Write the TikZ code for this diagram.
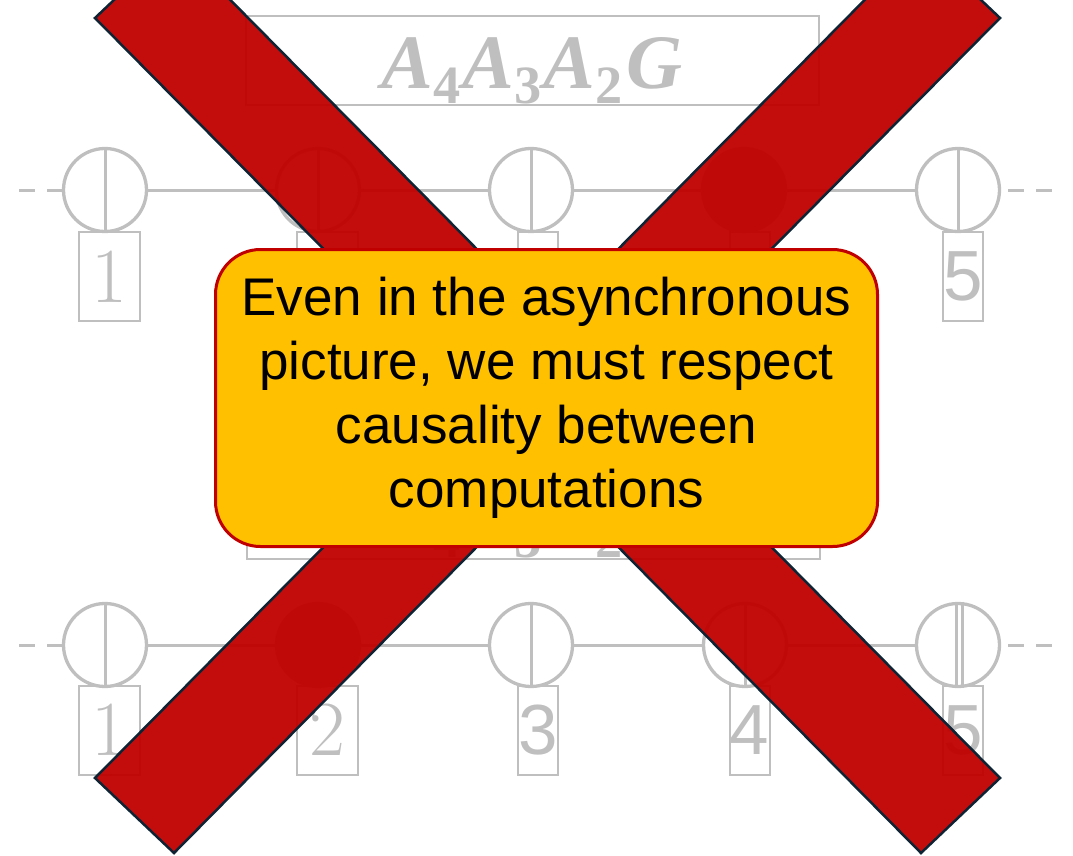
\documentclass[tikz,border=0pt]{standalone}
\usepackage{fontspec}
\usepackage{graphicx}
\newfontfamily\arialf{Liberation Sans}
\newfontfamily\timesf{Liberation Serif}
\newcommand{\fbi}{\timesf\bfseries\itshape}
\newcommand{\fsub}[1]{\raisebox{-1.9pt}{\timesf\bfseries\upshape\fontsize{7}{7}\selectfont #1}}
\newcommand{\formula}{\resizebox{301pt}{51pt}{\fbi A\fsub{4}\kern0.3pt A\fsub{3}\kern0.3pt A\fsub{2}\kern0.5pt G}}
\definecolor{lgray}{HTML}{BFBFBF}
\definecolor{xred}{HTML}{C00000}
\definecolor{navy}{RGB}{14,36,52}
\definecolor{amber}{HTML}{FFC000}
\begin{document}
\begin{tikzpicture}[x=1pt,y=-1pt,
  qc/.style={circle, draw=lgray, line width=3.3pt, minimum size=83pt, inner sep=0pt},
  qcf/.style={qc, fill=lgray},
  wire/.style={draw=lgray, line width=3pt},
  stub/.style={wire, dash pattern=on 16pt off 12pt},
  wbox/.style={draw=lgray, line width=2pt, minimum width=61pt, minimum height=89pt, inner sep=0pt, text=lgray, font=\fontsize{78}{78}\selectfont},
  nbox/.style={draw=lgray, line width=2pt, minimum width=40pt, minimum height=89pt, inner sep=0pt, text=lgray, font=\arialf\fontsize{71}{71}\selectfont},
  fbox/.style={draw=lgray, line width=2pt, minimum width=573pt, minimum height=89pt, inner sep=0pt},
  ftext/.style={anchor=base, text=lgray, inner sep=0pt},
  band/.style={fill=xred, fill opacity=0.95, draw=navy, line width=2.5pt, line join=miter},
  callout/.style={draw=xred, fill=amber, line width=3pt, rounded corners=45pt, minimum width=662pt, minimum height=297pt, align=center, inner sep=0pt, font=\arialf\fontsize{53}{64}\selectfont}
]
\useasboundingbox (0,0) rectangle (1073,856);
\begin{scope}
\clip (0,0) rectangle (1073,856);
% formula boxes
\node[fbox] (tf) at (532.5,60.5) {};
\node[ftext] (tft) at (532,89) {\formula};
\node[fbox] (bf) at (533,514.5) {};
\node[ftext] (bft) at (532,543) {\formula};
% top row
\node[qc] (t1) at (105,190) {};
\node[qc] (t2) at (318,190) {};
\node[qc] (t3) at (531,190) {};
\node[qcf] (t4) at (744,190) {};
\node[qc] (t5) at (958,190) {};
\coordinate (tl) at (19,190);
\coordinate (tr) at (1052,190);
\draw[stub] (tl) -- (t1);
\draw[stub] (tr) -- (t5);
\draw[wire] (t1) -- (t2);
\draw[wire] (t2) -- (t3);
\draw[wire] (t3) -- (t4);
\draw[wire] (t4) -- (t5);
\draw[wire] (t1.north) -- (t1.south);
\draw[wire] (t2.north) -- (t2.south);
\draw[wire] (t3.north) -- (t3.south);
\draw[wire] (t5.north) -- (t5.south);
\node[wbox] (tb1) at (109,276.5) {1};
\node[wbox] (tb2) at (327.5,276.5) {};
\node[nbox] (tb3) at (538,276.5) {};
\node[nbox] (tb4) at (749.5,276.5) {};
\node[nbox] (tb5) at (963,276.5) {5};
% bottom row
\node[qc] (b1) at (105,645) {};
\node[qcf] (b2) at (318,645) {};
\node[qc] (b3) at (531,645) {};
\node[qc] (b4) at (745,645) {};
\node[qc] (b5) at (958,645) {};
\coordinate (bl) at (19,645);
\coordinate (br) at (1052,645);
\draw[stub] (bl) -- (b1);
\draw[stub] (br) -- (b5);
\draw[wire] (b1) -- (b2);
\draw[wire] (b2) -- (b3);
\draw[wire] (b3) -- (b4);
\draw[wire] (b4) -- (b5);
\draw[wire] (b1.north) -- (b1.south);
\draw[wire] (b3.north) -- (b3.south);
\draw[wire] (b4.north) -- (b4.south);
\draw[wire] ([xshift=-2pt]b5.north) -- ([xshift=-2pt]b5.south);
\draw[wire] ([xshift=4pt]b5.north) -- ([xshift=4pt]b5.south);
\node[wbox] (bb1) at (109,730) {1};
\node[wbox] (bb2) at (327.5,730) {2};
\node[nbox] (bb3) at (538,730) {3};
\node[nbox] (bb4) at (749.5,730) {4};
\node[nbox] (bb5) at (963,730) {5};
% red cross
\path[band] (95,18) -- (921,853) -- (1000,778) -- (174,-57) -- cycle;
\path[band] (1000,18) -- (174,853) -- (95,778) -- (921,-57) -- cycle;
\end{scope}
% callout
\node[callout] (msg) at (546.5,398) {Even in the asynchronous\\picture, we must respect\\causality between\\computations};
\end{tikzpicture}
\end{document}
